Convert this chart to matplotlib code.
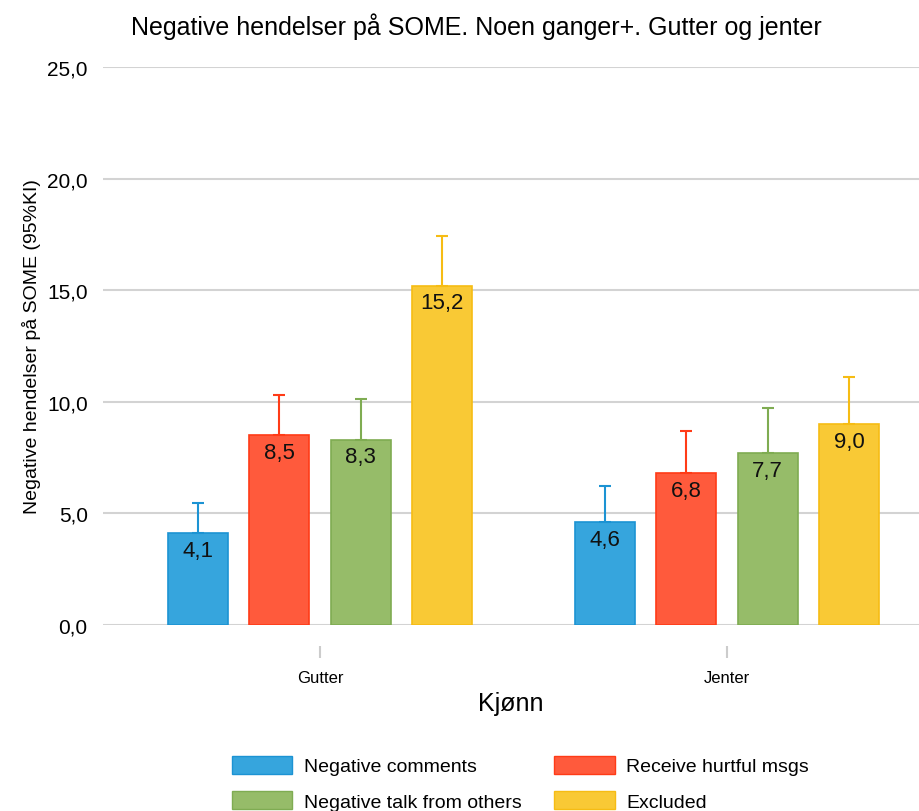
import numpy as np
import matplotlib
matplotlib.use("Agg")
import matplotlib.pyplot as plt
from matplotlib.patches import Patch

plt.rcParams['font.family'] = ['Liberation Sans Narrow', 'Liberation Sans', 'DejaVu Sans']

# ---------------------- DATA ----------------------
groups = ["Gutter", "Jenter"]
series = ["Negative comments", "Receive hurtful msgs", "Negative talk from others", "Excluded"]
values = [
    [4.1, 4.6],    # Negative comments
    [8.5, 6.8],    # Receive hurtful msgs
    [8.3, 7.7],    # Negative talk from others
    [15.2, 9.0],   # Excluded
]
upper_ci = [
    [5.45, 6.23],
    [10.3, 8.69],
    [10.12, 9.72],
    [17.43, 11.12],
]
fill_colors = ["#36A5DD", "#FF5A3C", "#96BC69", "#F9C935"]
edge_colors = ["#1C93D3", "#FF3B17", "#7FAC52", "#F6BC14"]
# ---------------------------------------------------

fig = plt.figure(figsize=(9.19, 8.12), dpi=100)
ax = fig.add_axes([103 / 919, 1 - 626 / 812, 1 - 103 / 919, (626 - 68) / 812])

x = np.arange(len(groups))
width = 0.147
offsets = [-0.3, -0.1, 0.1, 0.3]

for i, name in enumerate(series):
    vals = np.array(values[i])
    err = np.array(upper_ci[i]) - vals
    xs = x + offsets[i]
    ax.bar(xs, vals, width, color=fill_colors[i], edgecolor=edge_colors[i],
           linewidth=1.2, zorder=3, label=name)
    ax.errorbar(xs, vals, yerr=[np.zeros_like(err), err], fmt="none",
                ecolor=edge_colors[i], elinewidth=1.5, capsize=4.5, capthick=1.5, zorder=4)
    for xi, v in zip(xs, vals):
        ax.text(xi, v - 0.3, f"{v:.1f}".replace(".", ","), ha="center", va="top",
                fontsize=16, color="#111111", zorder=5)

ax.set_xlim(-0.533, 1.472)
ax.set_ylim(0, 25)
ax.set_yticks([0, 5, 10, 15, 20, 25])
ax.set_yticklabels([f"{t:.1f}".replace(".", ",") for t in [0, 5, 10, 15, 20, 25]])
ax.yaxis.grid(True, color="#D3D3D3", linewidth=1.5, zorder=0)
ax.set_axisbelow(True)
for s in ax.spines.values():
    s.set_visible(False)
ax.spines["bottom"].set_position(("outward", 15))
ax.tick_params(axis="y", length=0, labelsize=15, pad=11)
ax.set_xticks(x)
ax.set_xticklabels(groups)
ax.tick_params(axis="x", length=8.5, width=1.5, color="#CCCCCC", labelsize=12, pad=9,
               direction="out")

ax.set_ylabel("Negative hendelser på SOME (95%KI)", fontsize=14, labelpad=4)
ax.set_xlabel("Kjønn", fontsize=18, labelpad=4)
fig.text(0.518, 1 - 27 / 812, "Negative hendelser på SOME. Noen ganger+. Gutter og jenter",
         ha="center", va="center", fontsize=18)

order = [0, 2, 1, 3]
handles = [Patch(facecolor=fill_colors[i], edgecolor=edge_colors[i], label=series[i])
           for i in order]
fig.legend(handles=handles, loc="upper left", bbox_to_anchor=(222 / 919, 1 - 747 / 812), ncol=2,
           frameon=False, fontsize=14, handlelength=3.1, handleheight=1.05,
           columnspacing=1.7, labelspacing=0.8, handletextpad=0.6, borderpad=0)

fig.savefig("out.png", dpi=100)
